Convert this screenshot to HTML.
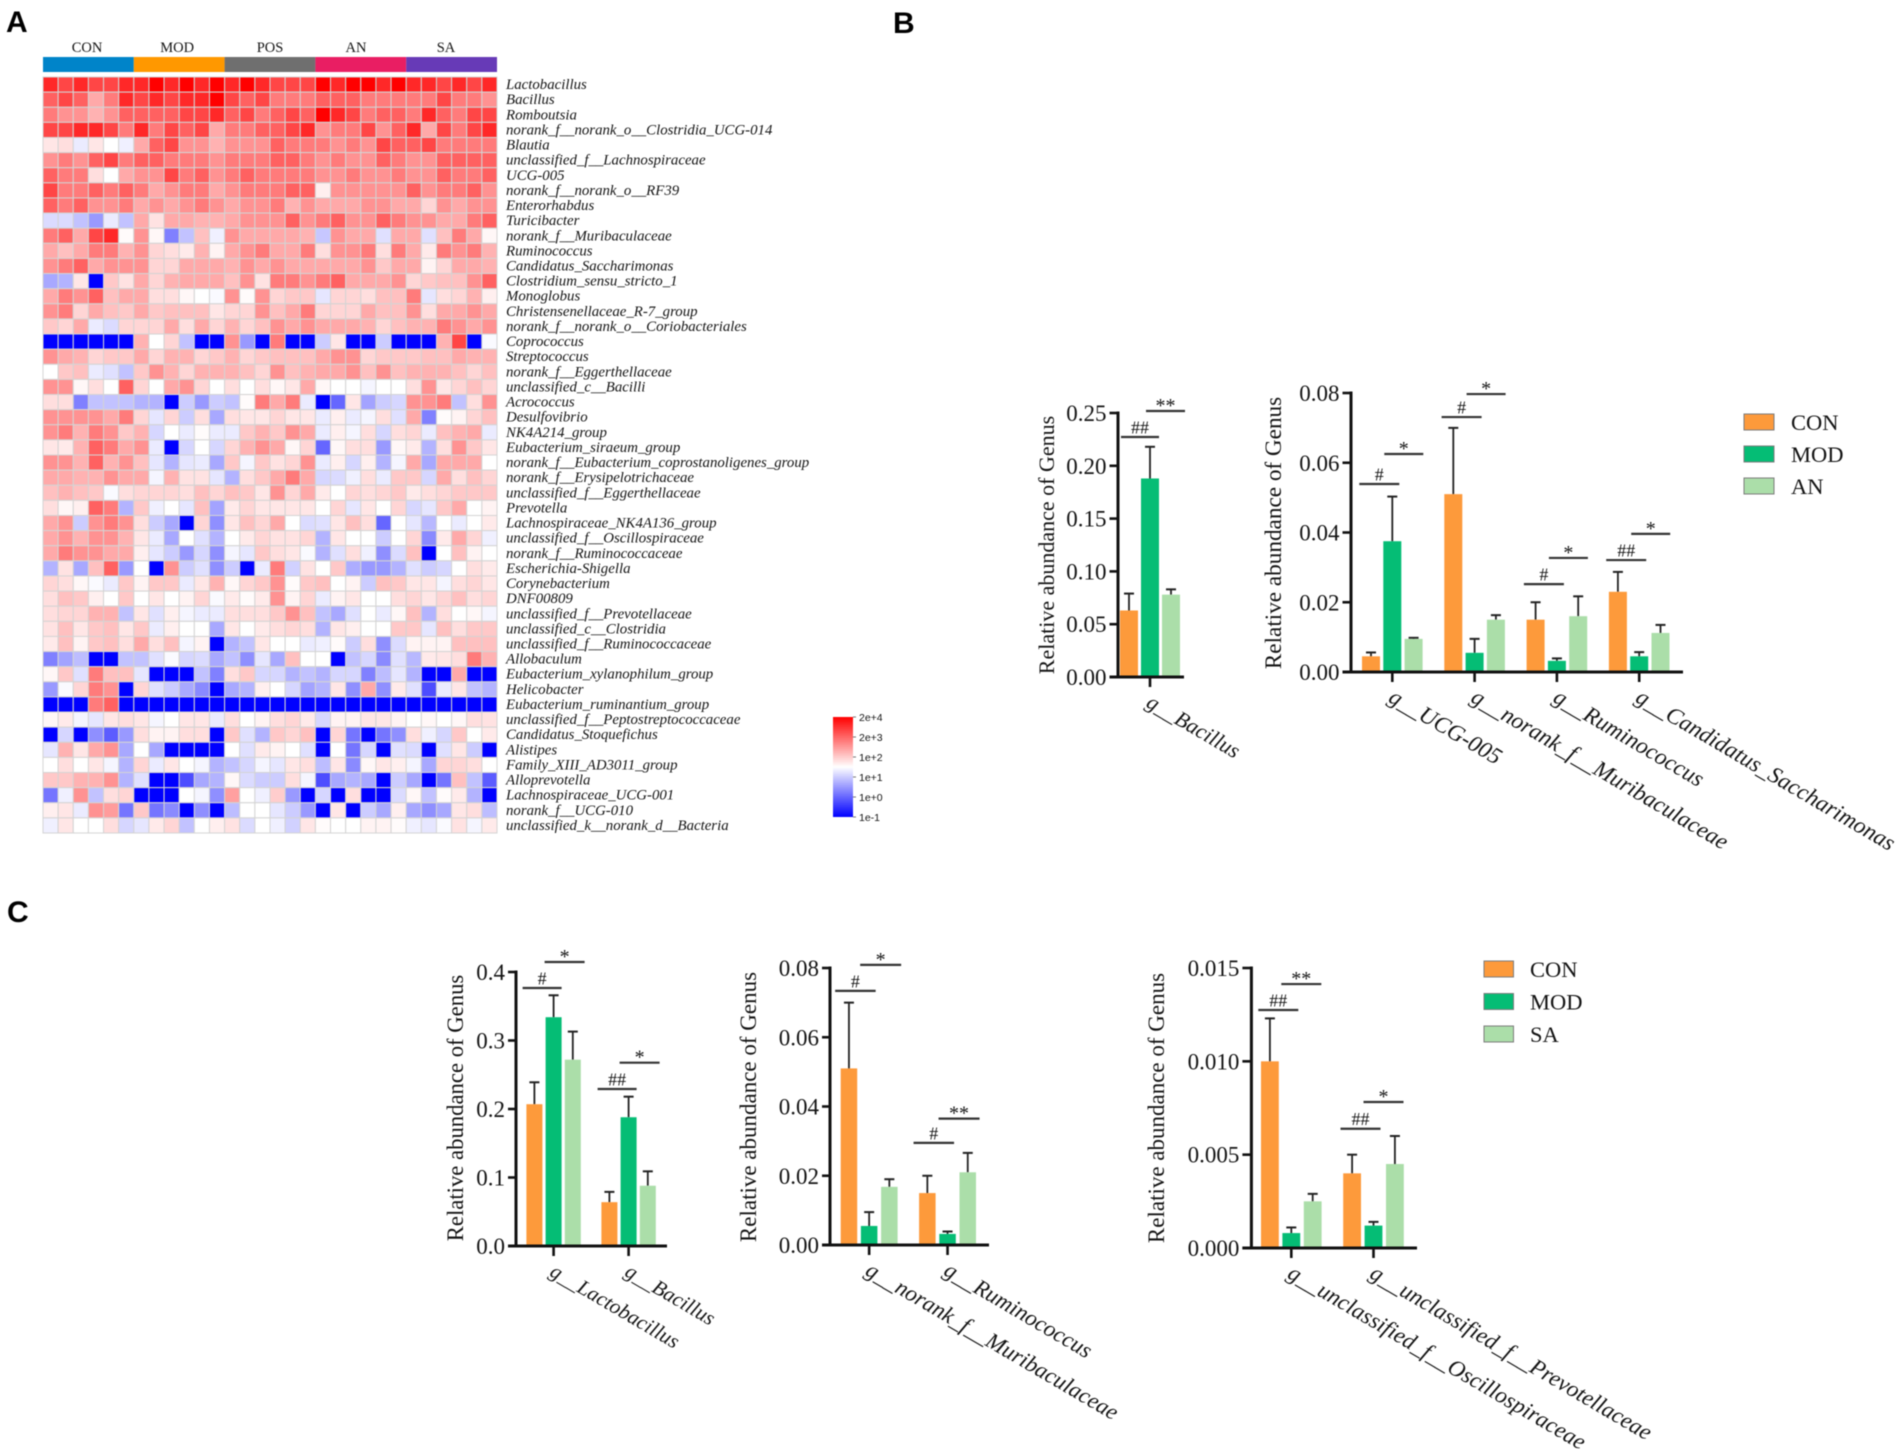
<!DOCTYPE html>
<html lang="en">
<head>
<meta charset="utf-8">
<title>Genus abundance figure</title>
<style>
html,body{margin:0;padding:0;background:#fff;}
svg{display:block;filter:blur(0.4px);}
text{font-family:"Liberation Serif","DejaVu Serif",serif;fill:#141414;}
.letter{font-family:"Liberation Sans",Arial,sans-serif;font-weight:700;font-size:30px;fill:#000;}
.sans{font-family:"Liberation Sans",Arial,sans-serif;}
</style>
</head>
<body>
<svg id="figure" xmlns="http://www.w3.org/2000/svg" width="1902" height="1456" viewBox="0 0 1902 1456">
  <defs>
    <linearGradient id="heat-gradient" x1="0" y1="0" x2="0" y2="1">
      <stop offset="0" stop-color="#ff0000"/>
      <stop offset="0.5" stop-color="#ffffff"/>
      <stop offset="1" stop-color="#0000ff"/>
    </linearGradient>
  </defs>
  <rect x="0" y="0" width="1902" height="1456" fill="#ffffff"/>
  <text class="letter" x="6" y="32">A</text>
  <text class="letter" x="893" y="33">B</text>
  <text class="letter" x="7" y="922">C</text>
  <g id="heatmap"></g>
  <g id="colorbar"></g>
  <g id="charts"></g>
  <g id="legends"></g>
</svg>
<script>
// ---------- Heatmap data ----------
const heatGroups = ['CON', 'MOD', 'POS', 'AN', 'SA'];
const heatGroupSizes = [6, 6, 6, 6, 6];
const heatGenera = [
'Lactobacillus','Bacillus','Romboutsia','norank_f__norank_o__Clostridia_UCG-014','Blautia',
'unclassified_f__Lachnospiraceae','UCG-005','norank_f__norank_o__RF39','Enterorhabdus','Turicibacter',
'norank_f__Muribaculaceae','Ruminococcus','Candidatus_Saccharimonas','Clostridium_sensu_stricto_1','Monoglobus',
'Christensenellaceae_R-7_group','norank_f__norank_o__Coriobacteriales','Coprococcus','Streptococcus','norank_f__Eggerthellaceae',
'unclassified_c__Bacilli','Acrococcus','Desulfovibrio','NK4A214_group','Eubacterium_siraeum_group',
'norank_f__Eubacterium_coprostanoligenes_group','norank_f__Erysipelotrichaceae','unclassified_f__Eggerthellaceae','Prevotella','Lachnospiraceae_NK4A136_group',
'unclassified_f__Oscillospiraceae','norank_f__Ruminococcaceae','Escherichia-Shigella','Corynebacterium','DNF00809',
'unclassified_f__Prevotellaceae','unclassified_c__Clostridia','unclassified_f__Ruminococcaceae','Allobaculum','Eubacterium_xylanophilum_group',
'Helicobacter','Eubacterium_ruminantium_group','unclassified_f__Peptostreptococcaceae','Candidatus_Stoquefichus','Alistipes',
'Family_XIII_AD3011_group','Alloprevotella','Lachnospiraceae_UCG-001','norank_f__UCG-010','unclassified_k__norank_d__Bacteria'];
// colour-scale index per cell: 0 = bottom of colour bar (blue), 5 = centre (white), 10 = top (red)
const heatValues = [
[9.5,9,9.5,9,9,9.5,9.5,10,9.5,10,9.5,10,9.5,10,9.5,9,9,9,10,9.5,10,10,9.5,10,9.5,9.5,9,9.5,9,9.5],
[8.5,9,8.5,7,8,9.5,9,9.5,9,9.5,9.5,10,9,8.5,9,8,8,8,8.5,8.5,8.5,8,8,8,8,8,9,8,8,7.5],
[8,7.5,7.5,6.8,7.5,8.5,8.5,8.5,8.5,9,9,9.5,8.5,9,8,8.5,9,8.5,10,9.5,9,8,8.5,8.5,8,9.5,8.5,8,9,9],
[9,9,9.5,9.5,9,8,9.5,8,9,8.5,9,7,8,8,8.5,8.5,9,9.5,7.5,8,8,9,7.5,8.5,9.5,7,9,8,9,9.5],
[5.6,5.8,4.6,5.6,5,4.7,7,8.5,9,7.5,7.5,6.8,7.5,7.5,7.5,8.5,8,8,8,7.5,8,7.5,9,8.5,8.5,9,8,8,8,8],
[7.5,8,7.5,8.5,9,8,8.5,8.5,8,8,8,7.5,8,8,8,8.5,8.5,8,7.5,8,7.5,7.5,8.5,8,7.5,7.5,8.5,8.5,8.5,8.5],
[8.5,8,8,5.8,5,7,7.5,7.5,9,8,8.5,7.5,8,8.5,8,8,8,8,7.5,7.5,8,7.5,7.5,8,7.5,7.5,8.5,8,8,8.5],
[9,8,8,8.5,8,8.5,8,7,7.5,8,8,7,7.5,8,8,8,8.5,8.5,5.4,7.5,7.5,7.5,7.5,7.5,8.5,7.5,8,8,8.5,7.5],
[8.5,8,8.5,7.5,7.5,8,7,7.5,7,7.5,8,7.5,7,7.5,7.5,8,6.8,7.5,7,7,7,7.5,7.5,7,7,6,7.5,7,7.5,7.5],
[4.3,4.3,3.8,3,4.6,3.8,7,5.7,7,7,6.8,6.8,7,7.5,7.5,7.5,8.5,7.5,8,8.5,7.5,7.5,8.5,8,7.5,7.5,7,7,8,8.5],
[8,8.5,7,9,9.5,5.1,7.5,5.2,2.5,3.8,6.5,4.7,7.5,7,7,7,7,6.8,3.9,7.5,7,7,4.4,7,7,4.4,6.5,8,7,5.2],
[7,6.5,7,8,8,6.8,7.5,6,5.8,5.5,6.8,5.3,7,7.5,8,7,7,8,5.8,7.5,7.5,8,5.8,8,7,5.5,8,7.5,8,6.8],
[7.5,8,8.5,7,7.5,7.5,7.5,6,6,7,7,7,6.8,7.5,7,7.5,7,7,7,7,7,7.5,6.3,7,7,5.3,6,7,7,6.8],
[3.3,3.5,5.6,0,6.3,5.7,7,6,6.8,7,7,7,6.5,7.5,5.7,8,8,7.5,8,8.5,7,7,7,7.5,6,6.3,6.5,6.5,7.5,8.5],
[7,8,7.5,8.5,6.5,7,7,5.8,5.8,5.2,5,4.9,7.5,5.1,7.5,6,6.3,6.3,4.5,6,6,5.8,6.5,6.5,8,4.5,5.8,6,6.8,5.4],
[7.5,8,6,7,6.5,6.3,7,6.3,6.5,6.5,6.5,5.6,6,6,7.5,6.5,7,8,6,6,6,7,6.5,6.5,7.5,5.8,7,7,7.5,7],
[6.3,6,7,4.6,4.3,6,6,6,7,5.8,7,6,6.8,6,6.5,7.5,7,7.5,7,7,7,6.8,6,6.5,6.8,6.8,8,7.5,7,7.5],
[0,0,0,0,0,0,6.8,5,6,3.8,0,0,7.5,3,0,8,0,0,4,5.6,0,0,4,0,0,0,6.8,9,0,4.9],
[7.5,7,6.8,6,6.3,6.3,7,6,6.8,6.8,6,6.3,6.8,6,6.3,6.5,6.5,6.5,7,7.5,7.5,6,6.3,6.3,6.3,6.5,6.5,7,6.8,6.8],
[5,6.3,6.5,4.6,4.4,3.8,6.3,7.5,6.8,6,6.8,6.8,6.8,6.5,6,7.5,6.5,6.8,7,7,7.5,6.5,7.5,6.5,6.8,6.8,6.8,6.5,6,6.5],
[7.5,7.5,5.2,5.8,5,8.5,6,5,7,7.5,6,5,5.8,5,5.8,5.2,5.6,7,5.2,5,5,4.8,5,5,5.8,7.5,5.6,6,6.5,6],
[5.8,5.8,2.5,3.8,3.8,3.8,3.5,3.5,0,4,3,4,3.8,5.1,8,7,8,4.6,0,2,5.6,3.2,4,4.2,7.5,7.5,8,3.8,5.8,7.5],
[7.5,7.5,7.5,7.5,7,8,6,4.5,6,4,5.8,3.3,5.8,5.6,5.6,6,5.6,5.6,4.6,5.4,4.6,4.8,5.8,4.4,7,2.5,5.1,5.3,6,6.5],
[7.5,8,6.8,8,7.5,6.3,6.8,4.2,5,4.6,5.1,4.6,4.6,6.3,6.8,6.3,7.5,7,4.6,5.4,4.8,5.8,4.2,5.8,6,4.6,6.5,6.8,7,4.6],
[5.6,5.5,6.8,8.5,8,7,7.5,4.6,0,4.2,5,4.2,6,6.8,7.5,7,5.2,6,2,5.2,5.8,5.8,3,5.2,5.5,3.5,5.8,7.5,6.3,5.6],
[7.5,7.5,6.8,8.5,6.8,7.5,6.5,4.5,3.5,4.5,4.6,3.3,6.3,4.8,6.3,5.7,6,7.5,4.6,5.4,4.2,5.4,3.5,4.8,7,3.3,7,7,7,5],
[7,7,6.8,6.8,7.5,7,7,4.8,6.8,5.7,5.7,4.5,3.5,5.8,6.3,7,8,7,4.2,4.3,4.7,5.8,4.6,6.3,6.3,4.2,7,5.8,6.5,6],
[6.5,6.8,6.5,6.3,4.9,5.8,6,6,6,5.8,6.5,6,6.5,6.3,5.6,7.5,6,7,5.5,5,6,5.8,6,6.3,5.5,5.8,6,6.3,6.3,6.3],
[5.8,5.2,5.4,8.5,8,3.5,6.3,4.7,5,4.5,6.5,3.2,5.5,6,5.6,5.6,5.6,5.6,5,6,4.5,5.6,5,6,4.2,4.5,6.3,7,5,5.3],
[7,7.5,4,7.5,8,7.5,5.8,4,3.3,0,6,2.8,5.6,6.5,6,7,5,4.3,4.4,5.6,6.5,5.8,2,5,4.5,3.6,5,4.6,5,5.5],
[7,7.5,6.8,7.5,7.5,6.8,5.6,4.6,3.3,5,4.4,3.5,5,5.5,6,5.7,5.7,6,3.5,5.6,5,5,4,5,6,2.7,5.5,7,6,4.7],
[7,8,7.5,7.5,7,7,5.4,4.5,4,3,4.2,2.8,4.8,4.5,6.3,5.8,5.6,4.9,3.5,4.4,5.8,4.7,2.8,4.3,6.5,0,5,6.5,5.3,5],
[3.5,5.7,3.3,6.5,8.5,3,5,0,7.5,4,4.4,2.8,4,0,4.6,8,4.1,5.7,5,6.3,3.4,3,3,3.5,4.4,4,4.2,5,5.8,5.5],
[6,5.8,5.2,4.9,4.6,6.3,5.3,6.3,6.3,4.6,5.6,6.8,5.2,6,6.3,7.5,5.1,6.3,6.5,5,5.3,4,6.5,6.3,5.6,5.6,4.8,5.8,6,5.6],
[5.8,6.5,6.3,5.4,5,6.3,5,5.6,5,5.3,6,4.9,5.5,5.1,5.5,7.5,5.3,6,4.6,5.3,5.6,5,5,5.8,6,5.6,6,6.5,5.8,6],
[5.8,6,6,6.8,6.8,3.8,5.6,4.4,5.4,4.8,4.6,4.6,5.8,5.8,5.8,6.3,7.5,6.5,3.8,3.3,4.4,5,4.6,5.2,6.5,3.5,5.8,5,5.2,4.8],
[5.7,6.5,5.6,6.3,6.5,5.6,6.3,4.6,5.4,5,5,3.3,5.6,5,5.5,5.8,6,5.8,3.5,5.6,5.4,5,5,6.3,6.3,4.5,6.5,5.8,6.3,6.3],
[5.5,6.5,5.3,6.3,6.5,5.8,7,5.8,6.5,4.8,5.3,0,3.5,3.8,5.6,5,5,4.6,4.7,5.1,4,5.8,2.8,4.3,5.3,5.3,5.3,6.5,6.5,6.5],
[2.5,3.2,3.7,0,0,3.8,3.8,4.4,4.9,4.2,4.3,3.3,3.8,2.8,4.5,3.3,6.5,5,5,0,3.8,4.2,2.7,4.4,3.6,5.5,5.6,5.8,8,6.8],
[5.2,6.3,4.4,8,6.5,6.5,4.5,0,0,0,3.8,2.5,5.8,6.3,4.2,4.2,3.5,3.8,3.5,4.2,4.2,2.5,3.7,4.5,3.5,0,0,7,0,0],
[3,4.9,6,8,7.5,0,6,4.4,4,3.3,2.7,0,3.3,3.5,5.4,5,4.2,3.2,3.5,5.6,2.8,7,2.8,5.5,4.4,1.5,4.6,5.6,3.8,3.5],
[0,0,0,8,8.5,0,0,0,0,0,0,0,0,0,0,0,0,0,0,0,0,0,0,0,0,0,0,0,0,0],
[5.2,5.5,4.8,4.5,5.6,5.8,5.6,4.8,5,5.6,5.6,4.6,5.8,5,5.3,5.8,6,5.5,4.2,5.3,5.3,5.6,5.6,5.3,5,5.2,5,5.2,5.8,5.7],
[0,4.2,0,2.8,1.8,3,5.8,5.3,5.3,5.8,5.8,0,6.3,4.4,3.5,6.3,6,6.5,0,6,2.3,0,2.3,2.8,5.8,4.7,4.2,6.3,5,5.5],
[4.5,6.8,5.6,7,7.5,3.3,5,3.3,0,0,0,0,5,4.4,5.5,5.3,5,4.4,0,5,2.3,4.2,0,4.4,4.3,0,4.4,5.6,4,0],
[5,5.8,5,5.6,4.8,3.5,6,4.6,5.6,5,4.8,3.5,3.8,4.2,4.8,4.5,5.6,5.8,3.7,5.6,2.7,5.2,5.6,5.4,4.8,3.3,6,6,5.8,5],
[6.3,6.3,6.8,6.8,7.5,3.5,4.4,0,0,1.5,3.3,3.5,5.2,4.3,4,4,5.8,4.8,1.5,3.3,3.5,3.3,0,4,3.3,0,2.3,6.5,3.8,1.8],
[2.3,4.7,7.5,3.8,5.8,6,0,0,0,5,4.8,2.8,7.2,5,4.7,6.2,3,0,4.2,0,5.8,0,0,4.3,5.2,3.8,5.1,5.5,3.5,0],
[5.4,5.6,4.6,7.5,7.3,2.3,6.3,2.3,2.7,0,2.8,0,3.7,5,5,4.5,4,3,0,5.6,0,4,3.3,5.4,3.3,2.8,3.3,5.6,5.8,3.7],
[4.7,5.6,5,5,5.8,4.2,4.5,5.5,6,3.8,5,5.4,5.7,4.3,5,4.7,4.1,5.6,5.1,5,5,5.3,5.3,5.1,4.7,4.5,4.9,5.7,4.8,5.5]
];
const colorbarLabels = ['2e+4', '2e+3', '1e+2', '1e+1', '1e+0', '1e-1'];

// ---------- Panel B, left chart ----------
const b1Categories = ['g__Bacillus'];
const b1Ticks = [0, 0.05, 0.10, 0.15, 0.20, 0.25];
const b1Con = [0.063];
const b1Mod = [0.188];
const b1Third = [0.078];
const b1ConTop = [0.079];
const b1ModTop = [0.218];
const b1ThirdTop = [0.083];
const b1SigGroups = [0, 0];
const b1SigTexts = ['##', '**'];
const b1SigValues = [0.2273, 0.2519];

// ---------- Panel B, right chart ----------
const b2Categories = ['g__UCG-005', 'g__norank_f__Muribaculaceae', 'g__Ruminococcus', 'g__Candidatus_Saccharimonas'];
const b2Ticks = [0, 0.02, 0.04, 0.06, 0.08];
const b2Con = [0.0045, 0.051, 0.015, 0.023];
const b2Mod = [0.0375, 0.0055, 0.0032, 0.0045];
const b2Third = [0.0095, 0.015, 0.016, 0.0112];
const b2ConTop = [0.0056, 0.070, 0.020, 0.0287];
const b2ModTop = [0.0503, 0.0095, 0.0039, 0.0057];
const b2ThirdTop = [0.0098, 0.0163, 0.0217, 0.0135];
const b2SigGroups = [0, 0, 1, 1, 2, 2, 3, 3];
const b2SigTexts = ['#', '*', '#', '*', '#', '*', '##', '*'];
const b2SigValues = [0.0539, 0.0625, 0.0731, 0.0797, 0.0252, 0.0327, 0.0321, 0.0396];

// ---------- Panel C charts ----------
const c1Categories = ['g__Lactobacillus', 'g__Bacillus'];
const c1Ticks = [0, 0.1, 0.2, 0.3, 0.4];
const c1Con = [0.207, 0.064];
const c1Mod = [0.334, 0.188];
const c1Third = [0.272, 0.088];
const c1ConTop = [0.239, 0.079];
const c1ModTop = [0.366, 0.218];
const c1ThirdTop = [0.313, 0.109];
const c1SigGroups = [0, 0, 1, 1];
const c1SigTexts = ['#', '*', '##', '*'];
const c1SigValues = [0.3766, 0.4146, 0.2292, 0.2676];

const c2Categories = ['g__norank_f__Muribaculaceae', 'g__Ruminococcus'];
const c2Ticks = [0, 0.02, 0.04, 0.06, 0.08];
const c2Con = [0.051, 0.015];
const c2Mod = [0.0055, 0.0032];
const c2Third = [0.0168, 0.021];
const c2ConTop = [0.070, 0.020];
const c2ModTop = [0.0095, 0.0039];
const c2ThirdTop = [0.019, 0.0266];
const c2SigGroups = [0, 0, 1, 1];
const c2SigTexts = ['#', '*', '#', '**'];
const c2SigValues = [0.0734, 0.0809, 0.0295, 0.0365];

const c3Categories = ['g__unclassified_f__Oscillospiraceae', 'g__unclassified_f__Prevotellaceae'];
const c3Ticks = [0, 0.005, 0.010, 0.015];
const c3Con = [0.010, 0.004];
const c3Mod = [0.0008, 0.0012];
const c3Third = [0.0025, 0.0045];
const c3ConTop = [0.0123, 0.005];
const c3ModTop = [0.0011, 0.0014];
const c3ThirdTop = [0.0029, 0.006];
const c3SigGroups = [0, 0, 1, 1];
const c3SigTexts = ['##', '**', '##', '*'];
const c3SigValues = [0.01275, 0.01414, 0.00639, 0.00782];

const legendBLabels = ['CON', 'MOD', 'AN'];
const legendCLabels = ['CON', 'MOD', 'SA'];

// ---------- Helpers ----------
const SVG_NS = 'http://www.w3.org/2000/svg';
const seriesColors = ['#fd9a3b', '#05bd75', '#abdea9'];
const annotColors = ['#0084c9', '#ff9800', '#6f6f6f', '#e91e63', '#673ab7'];
const groupLabelNudge = [-1.4, -2, 0, -4.8, -5.6];

function make(parent, tag, attrs, content) {
  const el = document.createElementNS(SVG_NS, tag);
  for (const k in attrs) el.setAttribute(k, attrs[k]);
  if (content !== undefined) el.textContent = content;
  parent.appendChild(el);
  return el;
}
function heatColor(v) {
  const t = Math.max(0, Math.min(10, v));
  if (t <= 5) {
    const c = Math.round(255 * t / 5);
    return 'rgb(' + c + ',' + c + ',255)';
  }
  const c = Math.round(255 * Math.pow((10 - t) / 5, 0.8));
  return 'rgb(255,' + c + ',' + c + ')';
}

// ---------- Heatmap ----------
(function drawHeatmap() {
  const root = document.getElementById('heatmap');
  const left = 43, right = 497, top = 77, bottom = 833;
  const nCols = heatValues[0].length;
  const nRows = heatValues.length;
  const cw = (right - left) / nCols;
  const ch = (bottom - top) / nRows;
  const xAt = function (c) { return left + c * cw; };
  const yAt = function (r) { return top + r * ch; };

  let start = 0;
  heatGroups.forEach(function (name, g) {
    const size = heatGroupSizes[g];
    const bar = make(root, 'rect', { x: xAt(start), y: 57, width: size * cw, height: 15, fill: annotColors[g] });
    
    
    const lab = make(root, 'text', { x: xAt(start) + size * cw / 2 + groupLabelNudge[g], y: 52, 'text-anchor': 'middle', 'font-size': 14.5 }, name);
    
    
    start += size;
  });

  heatValues.forEach(function (row, r) {
    row.forEach(function (v, c) {
      const cell = make(root, 'rect', {
        x: xAt(c), y: yAt(r), width: cw, height: ch,
        fill: heatColor(v), stroke: '#d4d4d4', 'stroke-width': 1
      });
      
      
    });
    const lab = make(root, 'text', {
      x: 506, y: yAt(r) + ch / 2 + 4.5, 'font-size': 14.85, 'font-style': 'italic'
    }, heatGenera[r]);
    
    
  });
})();

// ---------- Colour bar ----------
(function drawColorbar() {
  const root = document.getElementById('colorbar');
  const yTop = 717, yBot = 817;
  const bar = make(root, 'rect', { x: 833, y: yTop, width: 20, height: yBot - yTop, fill: 'url(#heat-gradient)' });
  
  
  colorbarLabels.forEach(function (t, i) {
    const y = yTop + i * (yBot - yTop) / (colorbarLabels.length - 1);
    const tick = make(root, 'line', { x1: 853, x2: 856, y1: y, y2: y, stroke: '#777', 'stroke-width': 1 });
    
    
    const lab = make(root, 'text', { x: 859, y: y + 4, 'font-size': 10.5, 'class': 'sans' }, t);
    
    
  });
})();

// ---------- Bar charts ----------
function drawBarChart(cfg) {
  const root = make(document.getElementById('charts'), 'g', {});
  
  
  const maxV = cfg.ticks[cfg.ticks.length - 1];
  const y = function (v) { return cfg.y0 - (v / maxV) * (cfg.y0 - cfg.yTop); };
  const barX = function (g, s) { return cfg.firstBar + g * cfg.groupStep + s * cfg.barStep; };
  const groupCenter = function (g) { return barX(g, 1) + cfg.barW / 2; };
  const series = [cfg.con, cfg.mod, cfg.third];
  const tops = [cfg.conTop, cfg.modTop, cfg.thirdTop];

  // bars and error bars
  series.forEach(function (vals, s) {
    vals.forEach(function (v, g) {
      const bx = barX(g, s);
      const cx = bx + cfg.barW / 2;
      const err = make(root, 'line', { x1: cx, x2: cx, y1: y(v), y2: y(tops[s][g]), stroke: '#222', 'stroke-width': 1.8 });
      
      
      const cap = make(root, 'line', { x1: cx - 5, x2: cx + 5, y1: y(tops[s][g]), y2: y(tops[s][g]), stroke: '#222', 'stroke-width': 2 });
      
      
      const bar = make(root, 'rect', { x: bx, y: y(v), width: cfg.barW, height: cfg.y0 - y(v), fill: seriesColors[s] });
      
      
    });
  });

  // axes
  const yAxis = make(root, 'line', { x1: cfg.axisX, x2: cfg.axisX, y1: y(maxV) - 1.5, y2: cfg.y0 + 1.5, stroke: '#111', 'stroke-width': 3 });
  
  
  const xAxis = make(root, 'line', { x1: cfg.axisX - cfg.tickLen, x2: cfg.axisEnd, y1: cfg.y0, y2: cfg.y0, stroke: '#111', 'stroke-width': 3 });
  
  

  cfg.ticks.forEach(function (t) {
    const tick = make(root, 'line', { x1: cfg.axisX - cfg.tickLen, x2: cfg.axisX, y1: y(t), y2: y(t), stroke: '#111', 'stroke-width': 2.6 });
    
    
    const lab = make(root, 'text', {
      x: cfg.axisX - cfg.tickLen - 3, y: y(t) + 8, 'text-anchor': 'end', 'font-size': cfg.tickFont
    }, t.toFixed(cfg.decimals));
    
    
  });

  const title = make(root, 'text', {
    x: 0, y: 0, 'text-anchor': 'middle', 'font-size': cfg.titleFont,
    transform: 'translate(' + cfg.titleX + ',' + cfg.titleY + ') rotate(-90)'
  }, 'Relative abundance of Genus');
  
  

  cfg.categories.forEach(function (name, g) {
    const cx = groupCenter(g);
    const tick = make(root, 'line', { x1: cx, x2: cx, y1: cfg.y0, y2: cfg.y0 + 10, stroke: '#111', 'stroke-width': 2.6 });
    
    
    const lab = make(root, 'text', {
      x: 0, y: 0, 'font-size': cfg.catFont, 'font-style': 'italic',
      transform: 'translate(' + (cx - 5) + ',' + (cfg.y0 + 29) + ') rotate(' + cfg.catAngle + ')'
    }, name);
    
    
  });

  // significance brackets
  cfg.sigTexts.forEach(function (t, i) {
    const cx = groupCenter(cfg.sigGroups[i]);
    const isHash = t.charAt(0) === '#';
    const off = isHash ? cfg.hashSpan : cfg.starSpan;
    const ly = y(cfg.sigValues[i]);
    const line = make(root, 'line', { x1: cx + off[0], x2: cx + off[1], y1: ly, y2: ly, stroke: '#333', 'stroke-width': 2.2 });
    
    
    const lab = make(root, 'text', {
      x: cx + (off[0] + off[1]) / 2, y: isHash ? ly - 3.5 : ly + 1,
      'text-anchor': 'middle', 'font-size': isHash ? 18 : 20
    }, t);
    
    
  });
}

drawBarChart({ name: 'chart-b-bacillus', categories: b1Categories, ticks: b1Ticks, decimals: 2,
  con: b1Con, mod: b1Mod, third: b1Third, conTop: b1ConTop, modTop: b1ModTop, thirdTop: b1ThirdTop,
  sigGroups: b1SigGroups, sigTexts: b1SigTexts, sigValues: b1SigValues,
  y0: 677, yTop: 413, axisX: 1118, axisEnd: 1184, tickLen: 8.5, firstBar: 1120, groupStep: 80, barStep: 21, barW: 18,
  titleX: 1054, titleY: 545, titleFont: 22, tickFont: 23, catFont: 21.8, catAngle: 30.5,
  hashSpan: [-29, 9], starSpan: [-4, 35] });

drawBarChart({ name: 'chart-b-genera', categories: b2Categories, ticks: b2Ticks, decimals: 2,
  con: b2Con, mod: b2Mod, third: b2Third, conTop: b2ConTop, modTop: b2ModTop, thirdTop: b2ThirdTop,
  sigGroups: b2SigGroups, sigTexts: b2SigTexts, sigValues: b2SigValues,
  y0: 672, yTop: 393, axisX: 1351, axisEnd: 1683, tickLen: 8.5, firstBar: 1362, groupStep: 82.3, barStep: 21.3, barW: 18,
  titleX: 1281, titleY: 533, titleFont: 23.2, tickFont: 23, catFont: 23.2, catAngle: 30.5,
  hashSpan: [-33, 7], starSpan: [-8, 31] });

drawBarChart({ name: 'chart-c-lactobacillus', categories: c1Categories, ticks: c1Ticks, decimals: 1,
  con: c1Con, mod: c1Mod, third: c1Third, conTop: c1ConTop, modTop: c1ModTop, thirdTop: c1ThirdTop,
  sigGroups: c1SigGroups, sigTexts: c1SigTexts, sigValues: c1SigValues,
  y0: 1246, yTop: 972, axisX: 516, axisEnd: 667, tickLen: 8, firstBar: 526.4, groupStep: 75, barStep: 19.2, barW: 16,
  titleX: 463, titleY: 1108, titleFont: 22.7, tickFont: 23, catFont: 21, catAngle: 30.5,
  hashSpan: [-31, 8], starSpan: [-9, 31] });

drawBarChart({ name: 'chart-c-muribaculaceae', categories: c2Categories, ticks: c2Ticks, decimals: 2,
  con: c2Con, mod: c2Mod, third: c2Third, conTop: c2ConTop, modTop: c2ModTop, thirdTop: c2ThirdTop,
  sigGroups: c2SigGroups, sigTexts: c2SigTexts, sigValues: c2SigValues,
  y0: 1245, yTop: 968, axisX: 830, axisEnd: 989, tickLen: 8, firstBar: 840.7, groupStep: 78.4, barStep: 20.2, barW: 16.5,
  titleX: 756, titleY: 1107, titleFont: 23, tickFont: 23, catFont: 22.8, catAngle: 30.5,
  hashSpan: [-34, 6.5], starSpan: [-9, 32] });

drawBarChart({ name: 'chart-c-unclassified', categories: c3Categories, ticks: c3Ticks, decimals: 3,
  con: c3Con, mod: c3Mod, third: c3Third, conTop: c3ConTop, modTop: c3ModTop, thirdTop: c3ThirdTop,
  sigGroups: c3SigGroups, sigTexts: c3SigTexts, sigValues: c3SigValues,
  y0: 1248, yTop: 968, axisX: 1251.4, axisEnd: 1417, tickLen: 9, firstBar: 1261, groupStep: 82.2, barStep: 21.4, barW: 17.8,
  titleX: 1164, titleY: 1108, titleFont: 23, tickFont: 23, catFont: 23, catAngle: 30.5,
  hashSpan: [-33, 7], starSpan: [-10, 30] });

// ---------- Legends ----------
function drawLegend(labels, name, swatchX, swatchW, textX, firstY, stepY) {
  const root = make(document.getElementById('legends'), 'g', {});
  
  
  labels.forEach(function (t, i) {
    const yy = firstY + i * stepY;
    const sw = make(root, 'rect', {
      x: swatchX, y: yy, width: swatchW, height: 16,
      fill: seriesColors[i], stroke: '#7c7c7c', 'stroke-width': 1
    });
    
    
    const lab = make(root, 'text', { x: textX, y: yy + 16, 'font-size': 22.5 }, t);
    
    
  });
}
drawLegend(legendBLabels, 'legend-b', 1744, 30, 1791, 414, 32);
drawLegend(legendCLabels, 'legend-c', 1484, 29.5, 1530, 961, 32.5);
</script>
</body>
</html>
